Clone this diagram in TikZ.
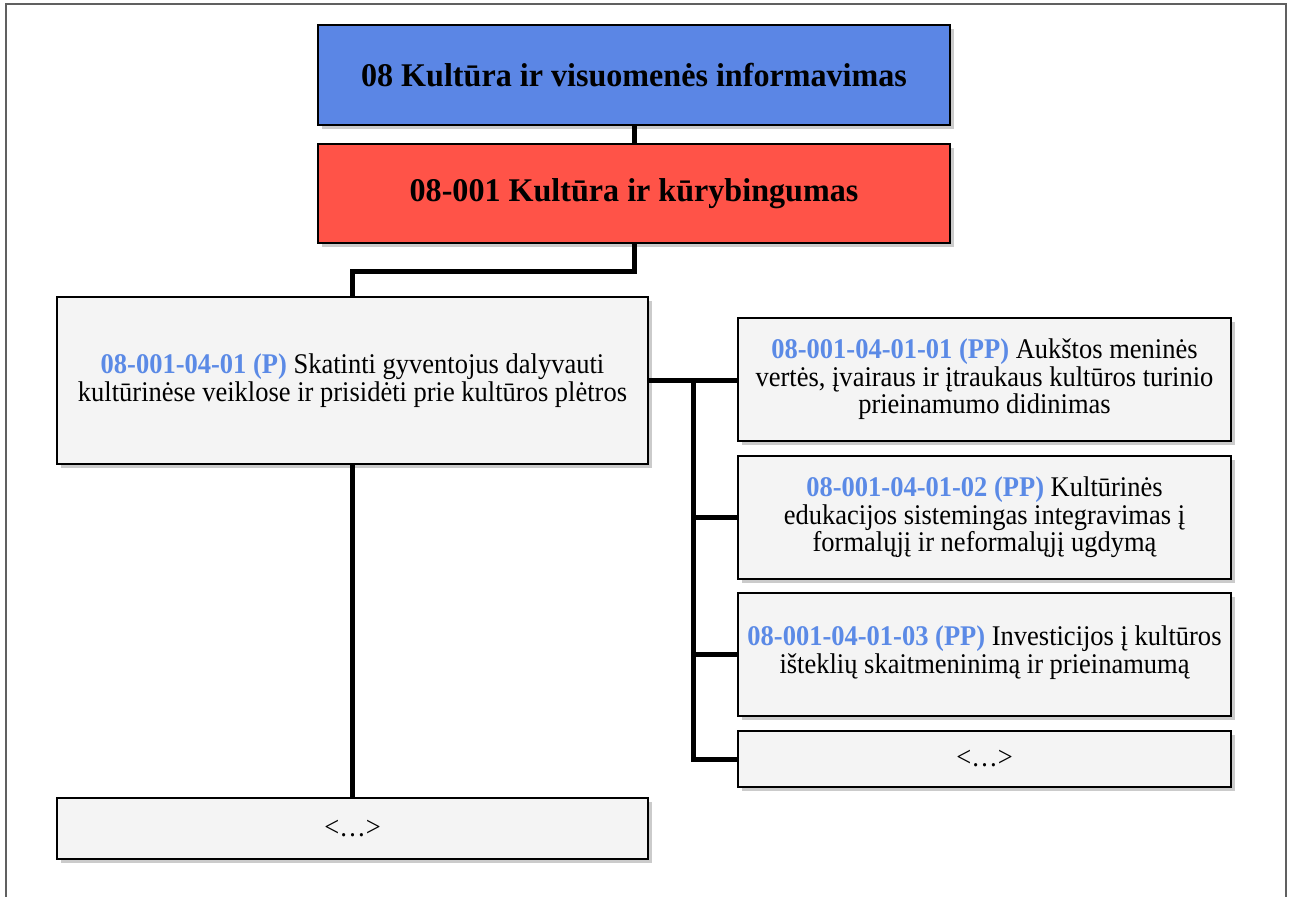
\documentclass[tikz,border=0pt]{standalone}
\usepackage{fontspec}
\setmainfont{Liberation Serif}[FakeStretch=0.93]
\newfontfamily\titlefont{Liberation Serif}[FakeStretch=0.97]
\usetikzlibrary{shadows}
\definecolor{boxblue}{HTML}{5B86E5}
\definecolor{boxred}{HTML}{FF5348}
\definecolor{boxgray}{HTML}{F4F4F4}
\definecolor{codeblue}{HTML}{5B8AE6}
\definecolor{framegray}{HTML}{606060}
\newcommand{\code}[1]{\textcolor{codeblue}{\bfseries #1}}
\tikzset{
  base/.style={draw=black, line width=2pt, rectangle, align=center, inner sep=0pt,
    drop shadow={shadow xshift=4pt, shadow yshift=-4pt, fill=black!45, opacity=0.45}},
  topbox/.style={base, minimum width=632pt, minimum height=100pt, font=\titlefont\fontsize{33.1}{36}\selectfont\bfseries},
  itembox/.style={base, fill=boxgray, font=\fontsize{28.5}{27.5}\selectfont},
  conn/.style={line width=5pt, draw=black},
}
\begin{document}
\begin{tikzpicture}[x=1pt,y=-1pt]
\useasboundingbox (0,0) rectangle (1291,897);
\draw[framegray, line width=2pt] (5.5,900) -- (5.5,4) -- (1286,4) -- (1286,900);

\node[topbox, fill=boxblue] (b) at (634,75) {08 Kultūra ir visuomenės informavimas};
\node[topbox, fill=boxred, minimum height=99pt] (r) at (634,193.5) {08-001 Kultūra ir kūrybingumas};
\node[itembox, minimum width=591pt, minimum height=167pt] (p) at (352.5,380.5)
  {\code{08-001-04-01 (P)} Skatinti gyventojus dalyvauti\\kultūrinėse veiklose ir prisidėti prie kultūros plėtros};
\node[itembox, minimum width=493pt, minimum height=123pt] (pp1) at (984.5,379.5)
  {\code{08-001-04-01-01 (PP)} Aukštos meninės\\vertės, įvairaus ir įtraukaus kultūros turinio\\prieinamumo didinimas};
\node[itembox, minimum width=493pt, minimum height=123pt] (pp2) at (984.5,517.5)
  {\code{08-001-04-01-02 (PP)} Kultūrinės\\edukacijos sistemingas integravimas į\\formalųjį ir neformalųjį ugdymą};
\node[itembox, minimum width=493pt, minimum height=123pt] (pp3) at (984.5,654.5)
  {\code{08-001-04-01-03 (PP)} Investicijos į kultūros\\išteklių skaitmeninimą ir prieinamumą\\[-18pt]\mbox{}};
\node[itembox, minimum width=493pt, minimum height=56pt] (dr) at (984.5,759) {<…>};
\node[itembox, minimum width=591pt, minimum height=61pt] (dl) at (352.5,828.5) {<…>};

\coordinate (bus) at (693,380);
\draw[conn] (b.south) -- (r.north);
\draw[conn] (r.south) -- ++(0,27) -| (p.north);
\draw[conn] (p.east |- bus) -- (bus -| pp1.west);
\draw[conn] (bus) |- (dr.west);
\draw[conn] (bus |- pp2.west) -- (pp2.west);
\draw[conn] (bus |- pp3.west) -- (pp3.west);
\draw[conn] (p.south) -- (dl.north);
\end{tikzpicture}
\end{document}
